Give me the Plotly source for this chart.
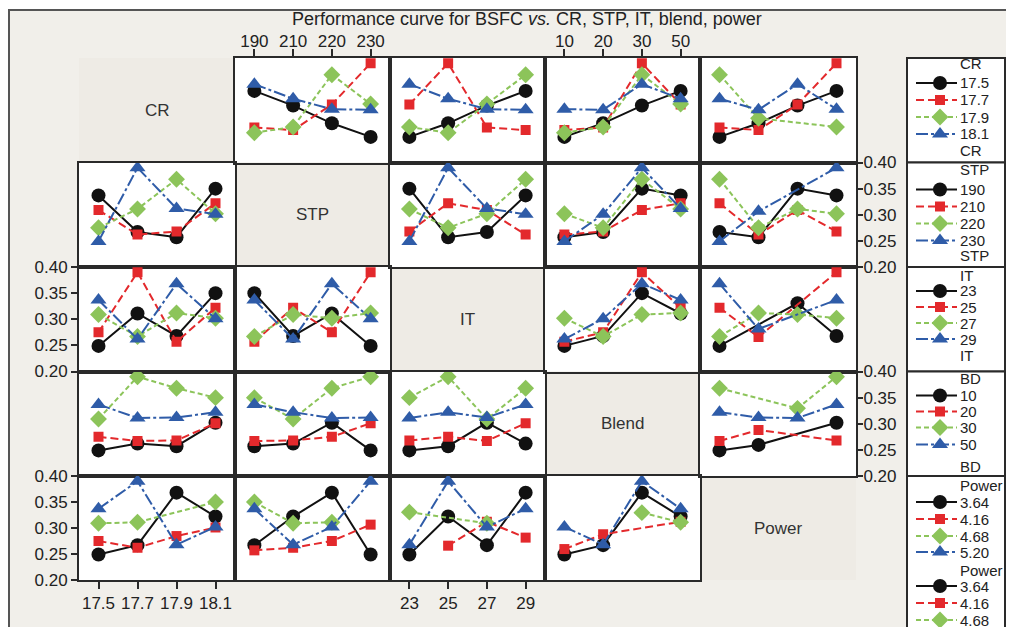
import plotly.graph_objects as go
import pandas as pd

factor_names = ["CR", "STP", "IT", "BD", "Power"]
diag_labels = ["CR", "STP", "IT", "Blend", "Power"]
cr_levels = [17.5, 17.7, 17.9, 18.1]
stp_levels = [190, 210, 220, 230]
it_levels = [23, 25, 27, 29]
bd_levels = [10, 20, 30, 50]
power_levels = [3.64, 4.16, 4.68, 5.20]
cr_labels = ["17.5", "17.7", "17.9", "18.1"]
stp_labels = ["190", "210", "220", "230"]
it_labels = ["23", "25", "27", "29"]
bd_labels = ["10", "20", "30", "50"]
power_labels = ["3.64", "4.16", "4.68", "5.20"]

run_cr = [17.5, 17.5, 17.5, 17.5, 17.7, 17.7, 17.7, 17.7,
          17.9, 17.9, 17.9, 17.9, 18.1, 18.1, 18.1, 18.1]
run_stp = [190, 210, 220, 230, 190, 210, 220, 230,
           190, 210, 220, 230, 190, 210, 220, 230]
run_it = [29, 27, 25, 23, 27, 29, 23, 25, 25, 23, 29, 27, 23, 25, 27, 29]
run_bd = [50, 30, 20, 10, 20, 10, 50, 30, 10, 20, 30, 50, 30, 50, 10, 20]
run_power = [5.20, 4.68, 4.16, 3.64, 3.64, 4.16, 4.68, 5.20,
             4.16, 5.20, 3.64, 4.16, 4.68, 3.64, 5.20, 4.16]
run_bsfc = [0.337, 0.309, 0.275, 0.249, 0.267, 0.262, 0.311, 0.390,
            0.257, 0.268, 0.368, 0.312, 0.350, 0.322, 0.302, 0.301]

levels = [cr_levels, stp_levels, it_levels, bd_levels, power_levels]
labels = [cr_labels, stp_labels, it_labels, bd_labels, power_labels]
y_ticks = [0.20, 0.25, 0.30, 0.35, 0.40]
y_ticktext = ["0.20", "0.25", "0.30", "0.35", "0.40"]

df = pd.DataFrame({"CR": run_cr, "STP": run_stp, "IT": run_it,
                   "BD": run_bd, "Power": run_power, "BSFC": run_bsfc})
for f, lv in zip(factor_names, levels):
    df[f + "_i"] = [lv.index(v) for v in df[f]]

# ---------------- layout geometry (pixels in the final picture) ----------------
W, H = 1014, 627
OFF = 8          # page margin in front of the figure
XE = [79, 235, 390, 545, 700, 856]
YE = [58, 162.5, 267, 371.5, 476, 580]
LINE = "#2a2a2a"
FONT = "Liberation Sans, Arial, sans-serif"
TXT = "#222222"


def px(x):
    return (x - OFF) / W


def py(y):
    return 1 - (y - OFF) / H


STYLES = [
    dict(color="#111111", symbol="circle", size=14, dash="solid"),
    dict(color="#e3292c", symbol="square", size=10, dash="8px,4px"),
    dict(color="#8cc45a", symbol="diamond", size=13, dash="5px,3px"),
    dict(color="#2f5ca8", symbol="triangle-up", size=14, dash="12px,3px,3px,3px"),
]

fig = go.Figure()
layout = {}

for r in range(5):
    for c in range(5):
        k = r * 5 + c + 1
        xn = "xaxis" if k == 1 else f"xaxis{k}"
        yn = "yaxis" if k == 1 else f"yaxis{k}"
        xr = "x" if k == 1 else f"x{k}"
        yr = "y" if k == 1 else f"y{k}"
        xa = dict(domain=[px(XE[c]), px(XE[c + 1])], range=[-0.5, 3.5],
                  showgrid=False, zeroline=False, showline=True, mirror=True,
                  linecolor=LINE, linewidth=2, tickvals=[0, 1, 2, 3],
                  ticktext=labels[c], anchor=yr, fixedrange=True, automargin=False,
                  tickfont=dict(size=17, color=TXT, family=FONT))
        x_top = (r == 0 and c in (1, 3))
        x_bot = (r == 4 and c in (0, 2, 4))
        if x_top:
            xa.update(ticks="outside", ticklen=7, tickwidth=1.5, tickcolor=LINE,
                      showticklabels=True, side="top", ticklabelstandoff=-5)
        elif x_bot:
            xa.update(ticks="outside", ticklen=7, tickwidth=1.5, tickcolor=LINE,
                      showticklabels=True, side="bottom")
        else:
            xa.update(ticks="", showticklabels=False)
        ya = dict(domain=[py(YE[r + 1]), py(YE[r])], range=[0.2, 0.4],
                  showgrid=False, zeroline=False, showline=True, mirror=True,
                  linecolor=LINE, linewidth=2, tickvals=y_ticks,
                  ticktext=y_ticktext, anchor=xr, fixedrange=True, automargin=False,
                  tickfont=dict(size=17, color=TXT, family=FONT))
        y_left = (c == 0 and r in (0, 2, 4))
        y_right = (c == 4 and r in (1, 3))
        if y_left:
            ya.update(ticks="outside", ticklen=6, tickwidth=1.5, tickcolor=LINE,
                      showticklabels=True, side="left")
        elif y_right:
            ya.update(ticks="outside", ticklen=5, tickwidth=1.5, tickcolor=LINE,
                      showticklabels=True, side="right", ticklabelstandoff=-3)
        else:
            ya.update(ticks="", showticklabels=False)
        layout[xn] = xa
        layout[yn] = ya

        if r == c:
            continue
        fr, fc = factor_names[r], factor_names[c]
        g = df.groupby([fr + "_i", fc + "_i"])["BSFC"].mean()
        for li in range(4):
            xs, ys = [], []
            for bj in range(4):
                if (li, bj) in g.index:
                    xs.append(bj)
                    ys.append(g[(li, bj)])
            s = STYLES[li]
            fig.add_trace(go.Scatter(
                x=xs, y=ys, xaxis=xr, yaxis=yr, mode="lines+markers",
                line=dict(color=s["color"], width=2, dash=s["dash"]),
                marker=dict(symbol=s["symbol"], size=s["size"], color=s["color"],
                            line=dict(width=0)),
                showlegend=False, hoverinfo="skip"))

# overlay axis in picture-pixel coordinates for the hand-built legends
layout["xaxis26"] = dict(domain=[0, 1], range=[OFF, OFF + W], visible=False,
                         fixedrange=True, anchor="y26", automargin=False)
layout["yaxis26"] = dict(domain=[0, 1], range=[OFF + H, OFF], visible=False,
                         fixedrange=True, anchor="x26", automargin=False)

shapes = []
annotations = []
# frame
shapes.append(dict(type="rect", xref="paper", yref="paper", x0=px(9), x1=px(W + 30),
                   y0=py(H + 30), y1=py(10), fillcolor="#f1efea",
                   line=dict(color="#555555", width=2), layer="below"))
# white plotting area
shapes.append(dict(type="rect", xref="paper", yref="paper", x0=px(XE[0]), x1=px(XE[5]),
                   y0=py(YE[5]), y1=py(YE[0]), fillcolor="white",
                   line=dict(width=0), layer="below"))
# diagonal cells
for d in range(5):
    shapes.append(dict(type="rect", xref="paper", yref="paper",
                       x0=px(XE[d]), x1=px(XE[d + 1]), y0=py(YE[d + 1]), y1=py(YE[d]),
                       fillcolor="#eeebe5", line=dict(width=0), layer="below"))
    annotations.append(dict(xref="paper", yref="paper",
                            x=px((XE[d] + XE[d + 1]) / 2), y=py((YE[d] + YE[d + 1]) / 2),
                            xanchor="center", yanchor="middle",
                            text=diag_labels[d], showarrow=False,
                            font=dict(size=17, color="#333333", family=FONT)))

# title
annotations.append(dict(xref="paper", yref="paper", x=px(527), y=py(19),
                        xanchor="center", yanchor="middle",
                        text="Performance curve for BSFC <i>vs.</i> CR, STP, IT, blend, power",
                        showarrow=False, font=dict(size=18, color=TXT, family=FONT)))

# legends
LEG_X0, LEG_X1 = 907, 1005
leg_layout = [
    dict(head=6, items=[25, 42, 59, 76], foot=92, extra=[]),
    dict(head=7, items=[27, 44, 61, 78], foot=93, extra=[]),
    dict(head=8, items=[24, 40, 56, 72], foot=88, extra=[]),
    dict(head=7, items=[24, 40, 56, 73], foot=95, extra=[]),
    dict(head=9, items=[26, 43, 60, 76], foot=94, extra=[110, 127, 144]),
]
for r in range(5):
    top = YE[r]
    bot = YE[r + 1] if r < 4 else H + 40
    shapes.append(dict(type="rect", xref="paper", yref="paper", x0=px(LEG_X0), x1=px(LEG_X1),
                       y0=py(bot), y1=py(top), fillcolor="white",
                       line=dict(color=LINE, width=2), layer="below"))
    L = leg_layout[r]
    title = factor_names[r]
    entries = [(L["head"], title, None)]
    entries += [(off, labels[r][i], i) for i, off in enumerate(L["items"])]
    entries.append((L["foot"], title, None))
    entries += [(off, labels[r][i], i) for i, off in enumerate(L["extra"])]
    for off, txt, si in entries:
        yy = top + off
        annotations.append(dict(xref="paper", yref="paper", x=px(958), y=py(yy),
                                xanchor="left", yanchor="middle", text=txt, showarrow=False,
                                font=dict(size=15, color=TXT, family=FONT)))
        if si is not None:
            s = STYLES[si]
            fig.add_trace(go.Scatter(
                x=[916, 957], y=[yy, yy], xaxis="x26", yaxis="y26", mode="lines",
                line=dict(color=s["color"], width=2, dash=s["dash"]),
                showlegend=False, hoverinfo="skip"))
            fig.add_trace(go.Scatter(
                x=[940], y=[yy], xaxis="x26", yaxis="y26", mode="markers",
                marker=dict(symbol=s["symbol"], size=s["size"], color=s["color"],
                            line=dict(width=0)),
                showlegend=False, hoverinfo="skip", cliponaxis=False))

fig.update_layout(**layout)
fig.update_layout(template="none", width=W, height=H,
                  margin=dict(l=0, r=0, t=0, b=0, pad=0), autosize=False,
                  paper_bgcolor="white", plot_bgcolor="rgba(0,0,0,0)",
                  shapes=shapes, annotations=annotations, showlegend=False,
                  font=dict(family=FONT, color=TXT))
fig.write_html("out.html")
